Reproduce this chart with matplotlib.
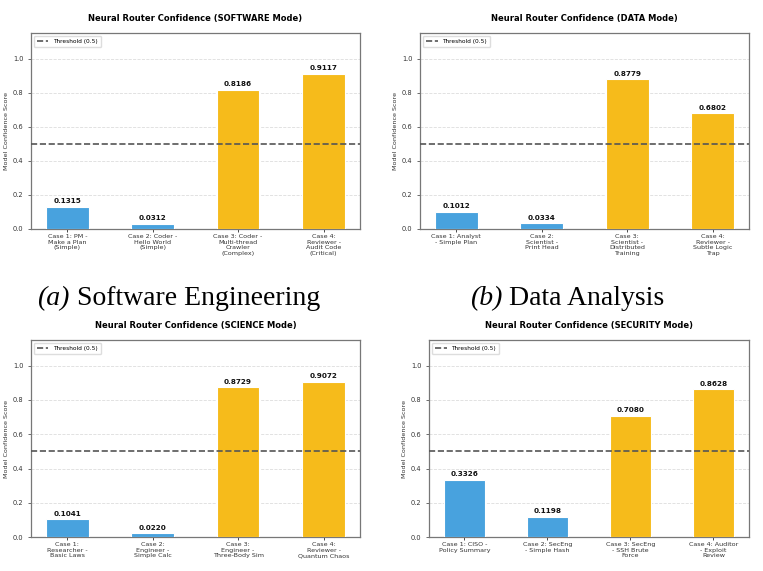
import matplotlib
matplotlib.use("Agg")
import matplotlib.pyplot as plt

THRESHOLD = 0.5

modes = ["SOFTWARE", "DATA", "SCIENCE", "SECURITY"]

software_labels = ["Case 1: PM -\nMake a Plan\n(Simple)", "Case 2: Coder -\nHello World\n(Simple)",
                   "Case 3: Coder -\nMulti-thread\nCrawler\n(Complex)", "Case 4:\nReviewer -\nAudit Code\n(Critical)"]
software_scores = [0.1315, 0.0312, 0.8186, 0.9117]

data_labels = ["Case 1: Analyst\n- Simple Plan", "Case 2:\nScientist -\nPrint Head",
               "Case 3:\nScientist -\nDistributed\nTraining", "Case 4:\nReviewer -\nSubtle Logic\nTrap"]
data_scores = [0.1012, 0.0334, 0.8779, 0.6802]

science_labels = ["Case 1:\nResearcher -\nBasic Laws", "Case 2:\nEngineer -\nSimple Calc",
                  "Case 3:\nEngineer -\nThree-Body Sim", "Case 4:\nReviewer -\nQuantum Chaos"]
science_scores = [0.1041, 0.0220, 0.8729, 0.9072]

security_labels = ["Case 1: CISO -\nPolicy Summary", "Case 2: SecEng\n- Simple Hash",
                   "Case 3: SecEng\n- SSH Brute\nForce", "Case 4: Auditor\n- Exploit\nReview"]
security_scores = [0.3326, 0.1198, 0.7080, 0.8628]

caption_tags = ["(a)", "(b)"]
caption_names = ["Software Engineering", "Data Analysis"]

BLUE = "#48a2de"
YELLOW = "#f6bb1b"

# axes boxes in figure fractions (left, bottom, width, height)
boxes = [
    [0.0406, 0.599, 0.431, 0.343],
    [0.5505, 0.599, 0.431, 0.343],
    [0.0406, 0.0595, 0.431, 0.345],
    [0.5623, 0.0595, 0.419, 0.345],
]


def draw_panel(ax, mode, labels, scores):
    x = list(range(len(scores)))
    colors = [YELLOW if s > THRESHOLD else BLUE for s in scores]
    bars = ax.bar(x, scores, width=0.5, color=colors, edgecolor="white", linewidth=0.8, zorder=3)
    ax.axhline(THRESHOLD, color="#555555", linestyle="--", linewidth=1.2, label=f"Threshold ({THRESHOLD})", zorder=4)
    for b, s in zip(bars, scores):
        ax.text(b.get_x() + b.get_width() / 2, s + 0.015, f"{s:.4f}", ha="center", va="bottom",
                fontsize=5.2, fontweight="bold", color="#111111")
    ax.set_ylim(0, 1.15)
    ax.set_yticks([0.0, 0.2, 0.4, 0.6, 0.8, 1.0])
    ax.set_xticks(x)
    ax.set_xticklabels(labels, fontsize=4.6, color="#333333")
    ax.tick_params(axis="y", labelsize=4.8, colors="#333333", length=2, width=0.5)
    ax.tick_params(axis="x", length=2, width=0.5, pad=1.5)
    ax.set_ylabel("Model Confidence Score", fontsize=4.6, color="#333333", labelpad=3)
    ax.set_title(f"Neural Router Confidence ({mode} Mode)", fontsize=6.0, fontweight="bold", pad=9)
    ax.grid(axis="y", linestyle="--", color="#dddddd", linewidth=0.6, zorder=0)
    for sp in ax.spines.values():
        sp.set_color("#777777")
        sp.set_linewidth(0.9)
    ax.legend(loc="upper left", fontsize=4.2, frameon=True, edgecolor="#dddddd",
              handlelength=2.0, borderpad=0.5, framealpha=1)


fig = plt.figure(figsize=(7.63, 5.71), dpi=100)
panels = [(software_labels, software_scores), (data_labels, data_scores),
          (science_labels, science_scores), (security_labels, security_scores)]
for box, mode, (labels, scores) in zip(boxes, modes, panels):
    ax = fig.add_axes(box)
    draw_panel(ax, mode, labels, scores)

# captions: italic tag followed by upright name
for x0, tag, name in zip([0.049, 0.616], caption_tags, caption_names):
    t = fig.text(x0, 0.466, tag, ha="left", va="baseline", fontsize=20,
                 family="Liberation Serif", style="italic")
    plt.annotate(" " + name, xy=(1, 0), xycoords=t, ha="left", va="bottom",
                 fontsize=20, family="Liberation Serif", annotation_clip=False)

fig.savefig("out.png", dpi=100)
